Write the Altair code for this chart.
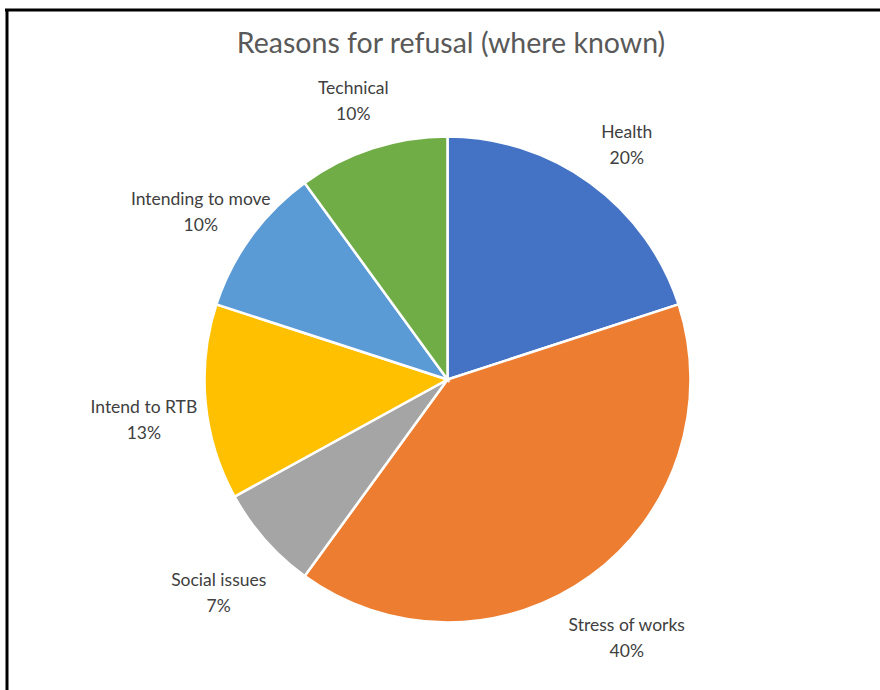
import altair as alt
import pandas as pd

categories = ["Health", "Stress of works", "Social issues", "Intend to RTB", "Intending to move", "Technical"]
values = [20, 40, 7, 13, 10, 10]
colors = ["#4472C4", "#ED7D31", "#A5A5A5", "#FFC000", "#5B9BD5", "#70AD47"]
title_text = "Reasons for refusal (where known)"

df = pd.DataFrame({
    "category": categories,
    "value": values,
    "order": list(range(len(categories))),
})
df["label"] = [f"{c}\n{v}%" for c, v in zip(categories, values)]

CX, CY = 447.5, 379.5
FONT = "Lato"

base = alt.Chart(df).encode(
    theta=alt.Theta("value:Q", stack=True),
    order=alt.Order("order:Q"),
)

pie = base.mark_arc(radius=243, stroke="white", strokeWidth=2.5).encode(
    color=alt.Color("category:N", scale=alt.Scale(domain=categories, range=colors), legend=None),
    x=alt.value(CX),
    y=alt.value(CY),
)

labels = base.mark_text(
    radius=305, font=FONT, fontSize=17.5, color="#404040",
    align="center", baseline="middle", lineBreak="\n", lineHeight=26,
).encode(
    text="label:N",
    x=alt.value(CX),
    y=alt.value(CY),
)

title = alt.Chart(pd.DataFrame({"t": [title_text]})).mark_text(
    font=FONT, fontSize=28.5, color="#595959", align="center", baseline="middle"
).encode(text="t:N", x=alt.value(451), y=alt.value(44))

border_top = alt.Chart(pd.DataFrame({"a": [0]})).mark_rule(color="black", strokeWidth=3).encode(
    x=alt.value(5), x2=alt.value(880), y=alt.value(10)
)
border_left = alt.Chart(pd.DataFrame({"a": [0]})).mark_rule(color="black", strokeWidth=3).encode(
    x=alt.value(7), y=alt.value(9), y2=alt.value(690)
)

chart = alt.layer(pie, labels, title, border_top, border_left).properties(
    width=880, height=690, padding=0,
    autosize=alt.AutoSizeParams(type="none"),
    background="white",
).configure_view(stroke=None)

chart.save("out.html", embed_options={"renderer": "svg", "actions": False})
